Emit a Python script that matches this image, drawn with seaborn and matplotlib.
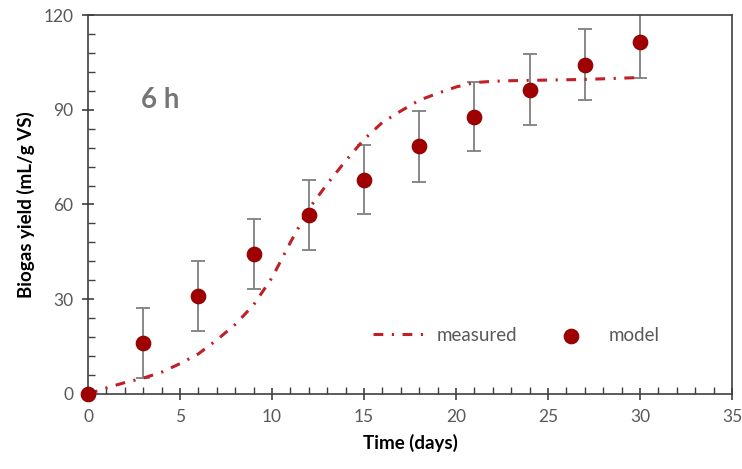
import matplotlib
matplotlib.use("Agg")
import matplotlib.pyplot as plt
import seaborn as sns
import pandas as pd
from matplotlib.ticker import MultipleLocator

# measured curve (read at each day)
measured_days = list(range(0, 31))
measured_yield = [0, 1.9, 3.6, 5.0, 6.9, 9.6, 12.7, 17.1, 22.0, 28.2, 36.8,
                  48.0, 58.6, 66.5, 73.8, 80.6, 86.0, 89.6, 93.0, 95.2, 97.2,
                  98.6, 99.0, 99.2, 99.3, 99.4, 99.5, 99.6, 99.8, 100.0, 100.2]

# model points with error bars
model_days = [0, 3, 6, 9, 12, 15, 18, 21, 24, 27, 30]
model_yield = [0, 16.2, 31.0, 44.3, 56.7, 67.9, 78.4, 87.8, 96.4, 104.3, 111.3]
model_err = [0, 11.0, 11.2, 11.2, 11.0, 11.0, 11.3, 11.0, 11.2, 11.2, 11.1]

x_ticks = [0, 5, 10, 15, 20, 25, 30, 35]
y_ticks = [0, 30, 60, 90, 120]

sns.set_theme(style="white")
plt.rcParams["font.family"] = ["Lato", "DejaVu Sans"]

fig = plt.figure(figsize=(7.42, 4.69), dpi=100)
ax = fig.add_axes([0.1186, 0.160, 0.8679, 0.808])

line_color = "#BE2025"
mark_color = "#A00000"

dfm = pd.DataFrame({"day": measured_days, "yield": measured_yield})
dfp = pd.DataFrame({"day": model_days, "yield": model_yield, "err": model_err})

ax.errorbar(dfp["day"][1:], dfp["yield"][1:], yerr=dfp["err"][1:], fmt="none",
            ecolor="#7F7F7F", elinewidth=1.3, capsize=5, capthick=1.3, zorder=2)

sns.lineplot(data=dfm, x="day", y="yield", ax=ax, color=line_color, lw=2.2,
             label="measured", zorder=3)
ax.lines[-1].set_dashes((3.2, 2.8, 0.7, 2.8))

sns.scatterplot(data=dfp, x="day", y="yield", ax=ax, color=mark_color, s=110,
                edgecolor="#8B0000", linewidth=0.8, label="model", zorder=4,
                clip_on=False)

ax.set_xlim(0, 35)
ax.set_ylim(0, 120)
ax.set_xticks(x_ticks)
ax.set_yticks(y_ticks)
ax.xaxis.set_minor_locator(MultipleLocator(1))
ax.yaxis.set_minor_locator(MultipleLocator(6))
ax.tick_params(axis="both", which="major", direction="inout", length=9,
               width=1.2, color="#404040", labelsize=12.5, labelcolor="#595959",
               bottom=True, left=True, pad=6)
ax.tick_params(axis="both", which="minor", direction="in", length=5,
               width=1.0, color="#404040", bottom=True, left=True)

for s in ax.spines.values():
    s.set_visible(True)
    s.set_color("#404040")
    s.set_linewidth(1.2)

ax.set_xlabel("Time (days)", fontsize=13.5, fontweight="bold", color="#000000", labelpad=7)
ax.set_ylabel("Biogas yield (mL/g VS)", fontsize=13.5, fontweight="bold", color="#000000", labelpad=6)

ax.text(3.9, 93, "6 h", fontsize=20, fontweight="bold", color="#767676",
        ha="center", va="center")

leg = ax.legend(loc="center", bbox_to_anchor=(0.665, 0.155), ncol=2, frameon=False,
                fontsize=13.5, handlelength=2.8, columnspacing=1.5, handletextpad=0.6)
for t in leg.get_texts():
    t.set_color("#595959")

fig.savefig("out.png", dpi=100)
